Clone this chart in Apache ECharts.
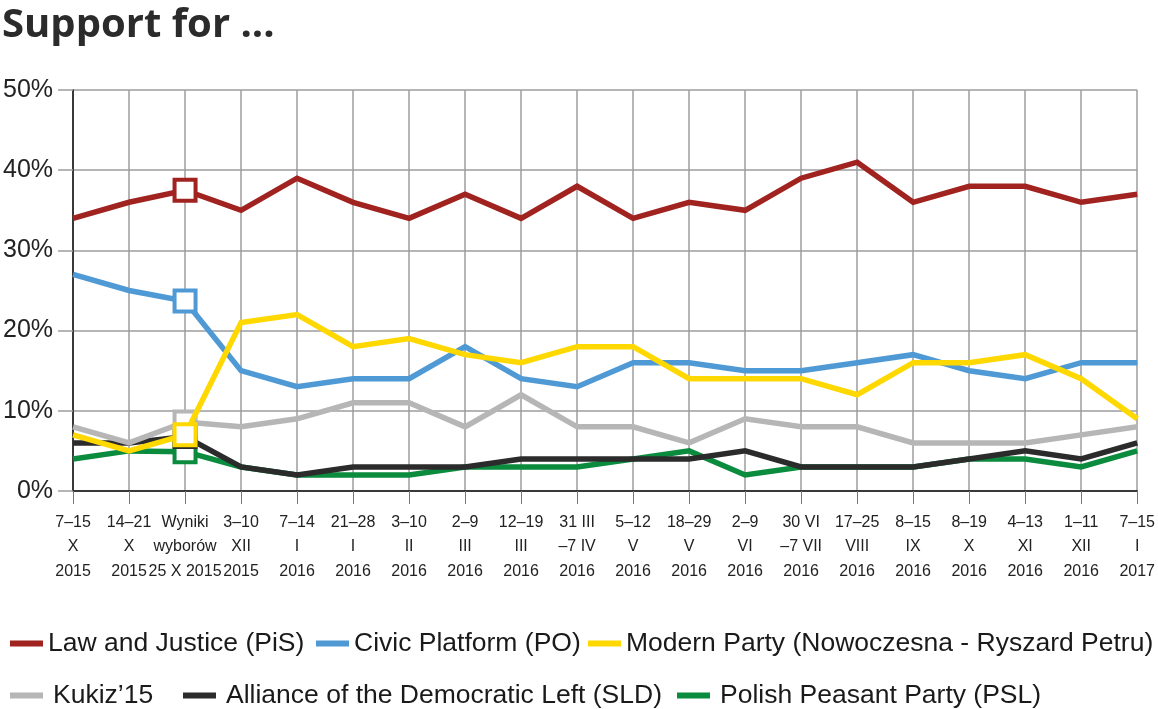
<!DOCTYPE html>
<html>
<head>
<meta charset="utf-8">
<script src="https://cdn.jsdelivr.net/npm/echarts@6/dist/echarts.min.js"></script>
<style>
html,body{margin:0;padding:0;background:#fff;}
#chart{width:1158px;height:709px;}
</style>
</head>
<body>
<div id="chart"></div>
<script>
// ---- data ----
var categories = ['7–15\nX\n2015', '14–21\nX\n2015', 'Wyniki\nwyborów\n25 X 2015', '3–10\nXII\n2015', '7–14\nI\n2016', '21–28\nI\n2016', '3–10\nII\n2016', '2–9\nIII\n2016', '12–19\nIII\n2016', '31 III\n–7 IV\n2016', '5–12\nV\n2016', '18–29\nV\n2016', '2–9\nVI\n2016', '30 VI\n–7 VII\n2016', '17–25\nVIII\n2016', '8–15\nIX\n2016', '8–19\nX\n2016', '4–13\nXI\n2016', '1–11\nXII\n2016', '7–15\nI\n2017'];
var seriesNames = ['Law and Justice (PiS)', 'Civic Platform (PO)', 'Modern Party (Nowoczesna - Ryszard Petru)', 'Kukiz’15', 'Alliance of the Democratic Left (SLD)', 'Polish Peasant Party (PSL)'];
var pis    = [34, 36, 37.5, 35, 39, 36, 34, 37, 34, 38, 34, 36, 35, 39, 41, 36, 38, 38, 36, 37];
var po     = [27, 25, 23.7, 15, 13, 14, 14, 18, 14, 13, 16, 16, 15, 15, 16, 17, 15, 14, 16, 16];
var modern = [7, 5, 7, 21, 22, 18, 19, 17, 16, 18, 18, 14, 14, 14, 12, 16, 16, 17, 14, 9];
var kukiz  = [8, 6, 8.6, 8, 9, 11, 11, 8, 12, 8, 8, 6, 9, 8, 8, 6, 6, 6, 7, 8];
var sld    = [6, 6, 6.8, 3, 2, 3, 3, 3, 4, 4, 4, 4, 5, 3, 3, 3, 4, 5, 4, 6];
var psl    = [4, 5, 4.9, 3, 2, 2, 2, 3, 3, 3, 4, 5, 2, 3, 3, 3, 4, 4, 3, 5];
var electionIndex = 2; // "Wyniki wyborów" point drawn as an open square
var yTicks = [0, 10, 20, 30, 40, 50];

// ---- styling ----
var colors = ['#a0231f', '#4f9ad5', '#ffd800', '#b5b6b5', '#2b2b2b', '#0a8b3d'];
var zOrder = [6, 5, 7, 4, 3, 2];
var allValues = [pis, po, modern, kukiz, sld, psl];

function buildData(values, color) {
  return values.map(function (v, i) {
    if (i === electionIndex) {
      return {
        value: v,
        symbol: 'rect',
        symbolSize: 21,
        itemStyle: { color: '#ffffff', borderColor: color, borderWidth: 4 }
      };
    }
    return v;
  });
}

var series = seriesNames.map(function (name, k) {
  return {
    name: name,
    type: 'line',
    z: zOrder[k],
    data: buildData(allValues[k], colors[k]),
    symbol: 'none',
    showSymbol: true,
    showAllSymbol: true,
    lineStyle: { color: colors[k], width: 5.5, join: 'miter' },
    itemStyle: { color: colors[k] },
    emphasis: { disabled: true },
    animation: false
  };
});

var legendFont = { fontFamily: 'Liberation Sans, Arial, sans-serif', fontSize: 26.5, color: '#1a1a1a' };
var legendPos = [
  { left: 10, top: 630 }, { left: 316, top: 630 }, { left: 588, top: 630 },
  { left: 10, top: 682, pad: 5 }, { left: 183, top: 682, pad: 5 }, { left: 677, top: 682, pad: 5 }
];
var legends = seriesNames.map(function (name, k) {
  return {
    data: [name],
    left: legendPos[k].left,
    top: legendPos[k].top,
    padding: 0,
    icon: 'rect',
    itemWidth: 33,
    itemHeight: 6,
    itemGap: 0,
    itemStyle: { borderWidth: 0 },
    selectedMode: false,
    textStyle: Object.assign({ padding: [0, 0, 0, legendPos[k].pad || 0] }, legendFont)
  };
});

var chart = echarts.init(document.getElementById('chart'), null, { renderer: 'canvas' });
chart.setOption({
  backgroundColor: '#ffffff',
  animation: false,
  title: {
    text: 'Support for ...',
    left: 2,
    top: 4,
    padding: 0,
    textStyle: { fontFamily: 'Open Sans', fontWeight: 700, fontSize: 40, color: '#2b2b2b', lineHeight: 44 }
  },
  legend: legends,
  grid: { left: 72, right: 20, top: 90, bottom: 218, containLabel: false },
  xAxis: {
    type: 'category',
    data: categories,
    boundaryGap: false,
    axisLine: { show: true, onZero: false, lineStyle: { color: '#111', width: 1.5 } },
    axisTick: { show: true, length: 13, interval: 0, lineStyle: { color: '#777', width: 1 } },
    axisLabel: {
      interval: 0,
      margin: 19,
      fontFamily: 'Liberation Sans, Arial, sans-serif',
      fontSize: 16,
      lineHeight: 24.5,
      color: '#222'
    },
    splitLine: { show: true, interval: 0, lineStyle: { color: '#9d9d9d', width: 1.5 } }
  },
  yAxis: {
    type: 'value',
    min: yTicks[0],
    max: yTicks[yTicks.length - 1],
    interval: 10,
    axisLine: { show: true, lineStyle: { color: '#111', width: 1.5 } },
    axisTick: { show: true, length: 15, lineStyle: { color: '#9d9d9d', width: 1.5 } },
    axisLabel: {
      margin: 20,
      formatter: '{value}%',
      fontFamily: 'Liberation Sans, Arial, sans-serif',
      fontSize: 25,
      color: '#222'
    },
    splitLine: { show: true, lineStyle: { color: '#9d9d9d', width: 1.5 } }
  },
  series: series
});
</script>
</body>
</html>
